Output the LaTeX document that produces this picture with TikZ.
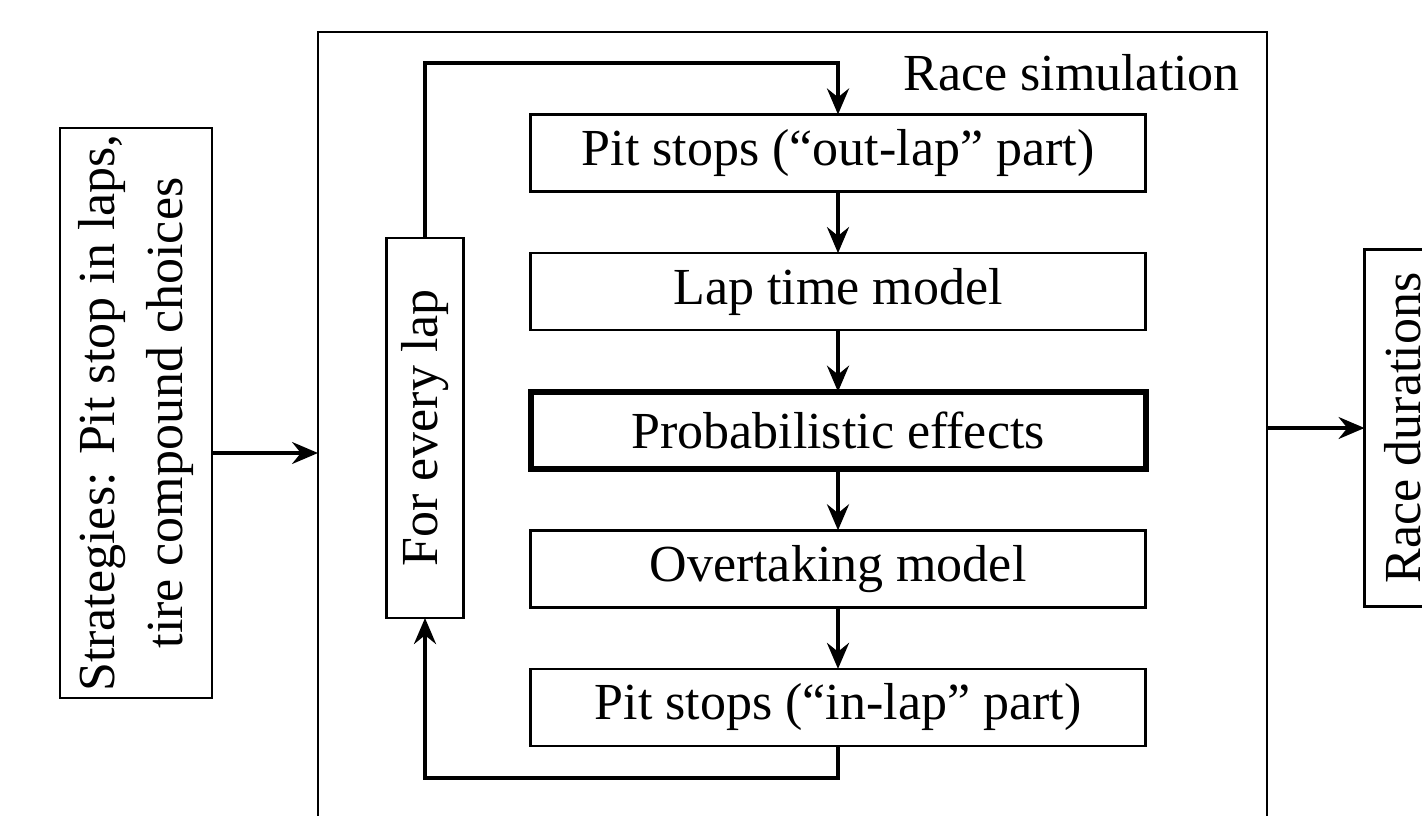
\documentclass[tikz,border=0pt]{standalone}
\usepackage{fontspec}
\setmainfont{Liberation Serif}
\usetikzlibrary{arrows.meta, positioning, calc}

\begin{document}
\begin{tikzpicture}[
    x=0.25pt, y=-0.25pt,
    % Node styles
    stage/.style={
        rectangle,
        draw,
        line width=0.6pt,
        minimum width=153.75pt,
        minimum height=19.25pt,
        inner sep=0pt,
        outer sep=0pt,
        align=center,
        font=\fontsize{13}{15}\selectfont
    },
    stage_bold/.style={
        stage,
        line width=1.5pt
    },
    side/.style={
        rectangle,
        draw,
        line width=0.6pt,
        rotate=90,
        minimum width=#1,
        minimum height=19.25pt,
        inner sep=0pt,
        outer sep=0pt,
        align=center,
        font=\fontsize{13}{17}\selectfont
    },
    flow/.style={
        -{Stealth[length=6.5pt, width=5.5pt, inset=2.2pt]},
        line width=1pt
    },
    feed/.style={
        flow,
        line width=0.8pt
    }
]
\useasboundingbox (0,0) rectangle (1422,815);
\clip (0,0) rectangle (1422,815);

% Race simulation frame
\node[rectangle, draw, line width=0.6pt, minimum width=237.25pt, minimum height=210.5pt,
      inner sep=0pt, outer sep=0pt, anchor=north west] (sim) at (318,32) {};
\node[font=\fontsize{13}{15}\selectfont, anchor=north east] (sim_label) at (1254,40) {Race simulation};

% Inner chain
\node[stage] (out_lap) at (838,153) {Pit stops (“out-lap” part)};
\node[stage, below=15.4pt of out_lap] (lap_time) {Lap time model};
\node[stage_bold, below=15.4pt of lap_time] (prob) {Probabilistic effects};
\node[stage, below=15.4pt of prob] (overtake) {Overtaking model};
\node[stage, below=15.4pt of overtake] (in_lap) {Pit stops (“in-lap” part)};

\node[side=95pt] (every_lap) at (425,428) {For every lap};

% Inputs and outputs
\node[side=142.5pt, minimum height=38pt] (strat) at (136,413) {Strategies: Pit stop in laps,\\ tire compound choices};
\node[side=89.25pt] (durations) at (1403,428) {Race durations};

% draw arrows
\draw[flow] (out_lap) -- (lap_time);
\draw[flow] (lap_time) -- (prob);
\draw[flow] (prob) -- (overtake);
\draw[flow] (overtake) -- (in_lap);

\coordinate (top_turn) at (838,63);
\coordinate (bottom_turn) at (838,778);
\draw[flow] (every_lap.east) |- (top_turn) -- (out_lap.north);
\draw[flow] (in_lap.south) -- (bottom_turn) -| (every_lap.west);

\draw[feed] (strat.south |- sim.west) -- (sim.west);
\draw[feed] (sim.east |- durations.north) -- (durations.north);

\end{tikzpicture}
\end{document}
